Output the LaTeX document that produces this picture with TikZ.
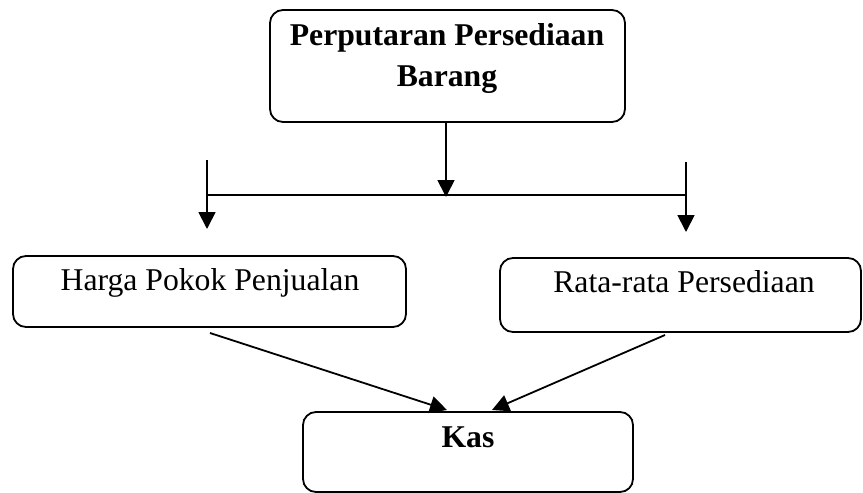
\documentclass[tikz,border=0pt]{standalone}
\usepackage{fontspec}
\setmainfont{Liberation Serif}
\usetikzlibrary{arrows.meta}
\begin{document}
\begin{tikzpicture}[x=1pt,y=-1pt,
  box/.style={draw=black,line width=1.8pt,rounded corners=13pt,inner sep=0pt},
  lbl/.style={font=\fontsize{31.7}{41}\selectfont,inner sep=0pt,anchor=base},
  lblb/.style={lbl,font=\fontsize{31.7}{41}\selectfont\bfseries},
  arr/.style={line width=1.8pt,-{Triangle[length=17pt,width=17pt]}},
  ln/.style={line width=1.8pt}]
\useasboundingbox (0,0) rectangle (863,493);
% boxes
\node[box,minimum width=355pt,minimum height=112pt] (top) at (447.5,66) {};
\node[box,minimum width=393pt,minimum height=71pt] (hpp) at (209.5,291.5) {};
\node[box,minimum width=361pt,minimum height=74pt] (rrp) at (680.5,295) {};
\node[box,minimum width=330pt,minimum height=80pt] (kas) at (468,452) {};
% texts
\node[lblb] (t1) at (447,45) {Perputaran Persediaan};
\node[lblb] (t2) at (447,86) {Barang};
\node[lbl] (t3) at (210,290) {Harga Pokok Penjualan};
\node[lbl] (t4) at (684,292) {Rata-rata Persediaan};
\node[lblb] (t5) at (468,447) {Kas};
% connectors
\coordinate (j) at (446,197);
\coordinate (hl) at (207,195);
\coordinate (hr) at (686,195);
\coordinate (ls) at (207,160);
\coordinate (le) at (207,229);
\coordinate (rs) at (686,162);
\coordinate (re) at (686,232);
\coordinate (hs) at (210,333);
\coordinate (rsd) at (665,335);
\coordinate (kl) at (447,410);
\coordinate (kr) at (492,410);
\draw[arr] (top.south -| j) -- (j);
\draw[ln] (hl) -- (hr);
\draw[arr] (ls) -- (le);
\draw[arr] (rs) -- (re);
\draw[arr] (hs) -- (kl);
\draw[arr] (rsd) -- (kr);
\end{tikzpicture}
\end{document}
